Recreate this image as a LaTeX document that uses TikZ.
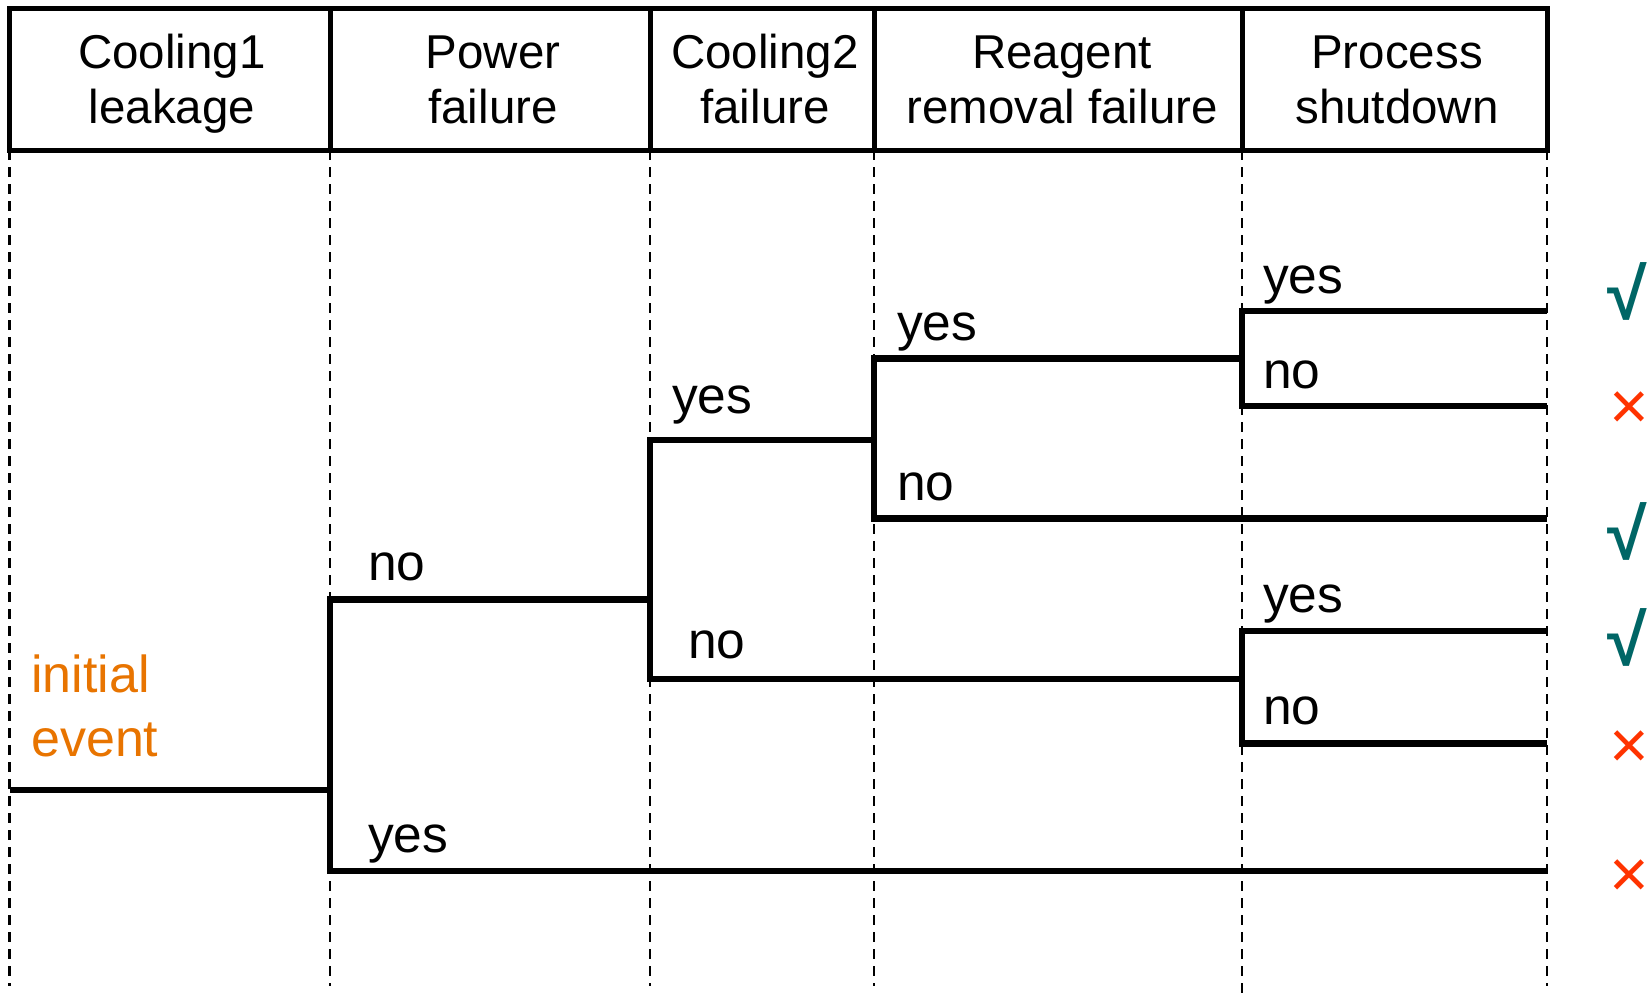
\documentclass[tikz,border=0pt]{standalone}
\usepackage{fontspec}
\setmainfont{Liberation Sans}
\definecolor{okteal}{RGB}{0,102,102}
\definecolor{badred}{RGB}{255,51,0}
\definecolor{ieorange}{RGB}{232,116,0}
\newcommand\hdstrut{\rule[-10pt]{0pt}{45pt}}
\newcommand\iestrut{\rule[-11pt]{0pt}{49pt}}
\begin{document}
\begin{tikzpicture}[x=1pt,y=-1pt,
  hdr/.style={font=\fontsize{47.5}{55}\selectfont, align=center, inner sep=0pt},
  lbl/.style={font=\fontsize{51.5}{60}\selectfont, anchor=base west, inner sep=0pt},
  tree/.style={line width=6.5pt, line join=miter},
  guide/.style={line width=2.5pt, dash pattern=on 10pt off 7pt},
  frame/.style={line width=5pt},
  okmark/.style={text=okteal, font=\bfseries\fontsize{72}{72}\selectfont, inner sep=0pt, anchor=east},
  badmark/.style={text=badred, font=\fontsize{68}{68}\selectfont, inner sep=0pt}]
\useasboundingbox (0,0) rectangle (1649,998);

% guide lines
\foreach \x/\yb in {9.5/986, 330/986, 650/986, 874/986, 1242/998, 1547/986}
  \draw[guide] (\x,150) -- (\x,\yb);

% header frame
\draw[frame] (9.5,9) rectangle (1547,150);
\foreach \x in {330,650,874,1242}
  \draw[frame] (\x,9) -- (\x,150);

\node[hdr] (h1) at (172,83) {\hdstrut Cooling1\\\hdstrut leakage};
\node[hdr] (h2) at (493,83) {\hdstrut Power\\\hdstrut failure};
\node[hdr] (h3) at (765,83) {\hdstrut Cooling2\\\hdstrut failure};
\node[hdr] (h4) at (1062,83) {\hdstrut Reagent\\\hdstrut removal failure};
\node[hdr] (h5) at (1397,83) {\hdstrut Process\\\hdstrut shutdown};

% tree coordinates
\coordinate (ie) at (9.5,790);
\coordinate (b1) at (330,790);
\coordinate (b1n) at (330,599.5);
\coordinate (b1y) at (330,871);
\coordinate (b2) at (650,599.5);
\coordinate (b2y) at (650,440);
\coordinate (b2n) at (650,679);
\coordinate (b3) at (874,440);
\coordinate (b3y) at (874,358.6);
\coordinate (b3n) at (874,518.5);
\coordinate (b4) at (1242,358.6);
\coordinate (b4y) at (1242,311);
\coordinate (b4n) at (1242,406);
\coordinate (b5) at (1242,679);
\coordinate (b5y) at (1242,631);
\coordinate (b5n) at (1242,743.5);
\coordinate (e1) at (1547,311);
\coordinate (e2) at (1547,406);
\coordinate (e3) at (1547,518.5);
\coordinate (e4) at (1547,631);
\coordinate (e5) at (1547,743.5);
\coordinate (e6) at (1547,871);

\draw[tree] (ie) -- (b1);
\draw[tree] (b2) -- (b1n) -- (b1y) -- (e6);
\draw[tree] (b3) -- (b2y) -- (b2n) -- (b5);
\draw[tree] (b4) -- (b3y) -- (b3n) -- (e3);
\draw[tree] (e1) -- (b4y) -- (b4n) -- (e2);
\draw[tree] (e4) -- (b5y) -- (b5n) -- (e5);

% branch labels
\node[lbl] (l1n) at (368,580) {no};
\node[lbl] (l1y) at (368,852) {yes};
\node[lbl] (l2y) at (672,413) {yes};
\node[lbl] (l2n) at (688,658) {no};
\node[lbl] (l3y) at (897,340) {yes};
\node[lbl] (l3n) at (897,500) {no};
\node[lbl] (l4y) at (1263,293) {yes};
\node[lbl] (l4n) at (1263,388) {no};
\node[lbl] (l5y) at (1263,612) {yes};
\node[lbl] (l5n) at (1263,724.6) {no};

% initial event
\node[font=\fontsize{52}{64}\selectfont, text=ieorange, align=left, anchor=west, inner sep=0pt]
  (init) at (31,710.5) {\iestrut initial\\\iestrut event};

% outcome marks
\node[okmark] (o1) at (1647,291) {√};
\node[badmark] (o2) at (1629,411) {×};
\node[okmark] (o3) at (1647,531) {√};
\node[okmark] (o4) at (1647,637) {√};
\node[badmark] (o5) at (1629,750) {×};
\node[badmark] (o6) at (1629,879) {×};
\end{tikzpicture}
\end{document}
